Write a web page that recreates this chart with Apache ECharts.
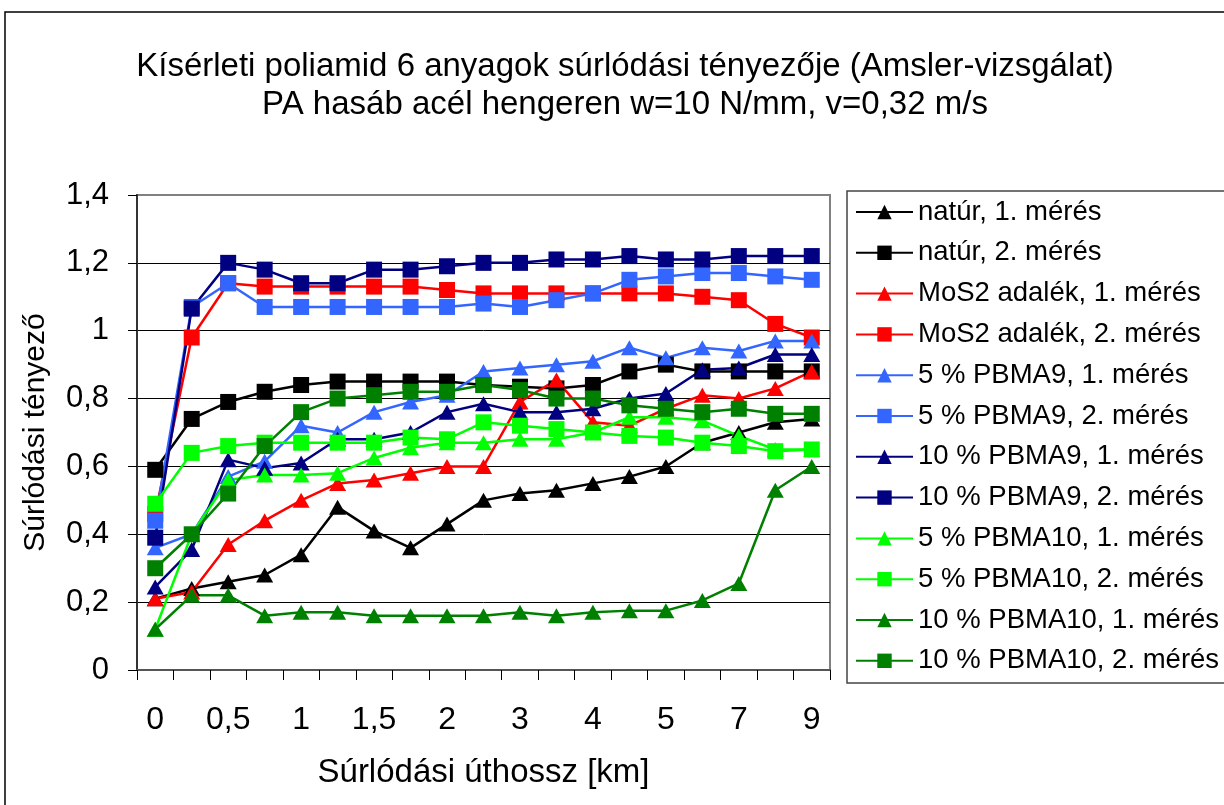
<!DOCTYPE html>
<html>
<head>
<meta charset="utf-8">
<script src="https://cdn.jsdelivr.net/npm/echarts@6/dist/echarts.min.js"></script>
<style>html,body{margin:0;padding:0;background:#fff}#c{width:1224px;height:805px}</style>
</head>
<body>
<div id="c"></div>
<script>
const categories = ['0','0,25','0,5','0,75','1','1,25','1,5','1,75','2','2,5','3','3,5','4','4,5','5','6','7','8','9'];
const yTicks = [0, 0.2, 0.4, 0.6, 0.8, 1, 1.2, 1.4];

const natur1 = [0.21,0.24,0.26,0.28,0.34,0.48,0.41,0.36,0.43,0.50,0.52,0.53,0.55,0.57,0.60,0.67,0.70,0.73,0.74];
const natur2 = [0.59,0.74,0.79,0.82,0.84,0.85,0.85,0.85,0.85,0.84,0.835,0.83,0.84,0.88,0.90,0.88,0.88,0.88,0.88];
const mos1 = [0.21,0.23,0.37,0.44,0.50,0.55,0.56,0.58,0.60,0.60,0.79,0.855,0.73,0.72,0.77,0.81,0.80,0.83,0.88];
const mos2 = [0.46,0.98,1.14,1.13,1.13,1.13,1.13,1.13,1.12,1.11,1.11,1.11,1.11,1.11,1.11,1.10,1.09,1.02,0.98];
const pbma9_5_1 = [0.36,0.40,0.57,0.615,0.72,0.70,0.76,0.79,0.81,0.88,0.89,0.90,0.91,0.95,0.92,0.95,0.94,0.97,0.97];
const pbma9_5_2 = [0.44,1.07,1.14,1.07,1.07,1.07,1.07,1.07,1.07,1.08,1.07,1.09,1.11,1.15,1.16,1.17,1.17,1.16,1.15];
const pbma9_10_1 = [0.245,0.355,0.62,0.595,0.61,0.68,0.68,0.70,0.76,0.785,0.76,0.76,0.77,0.80,0.815,0.885,0.89,0.93,0.93];
const pbma9_10_2 = [0.39,1.065,1.20,1.18,1.14,1.14,1.18,1.18,1.19,1.20,1.20,1.21,1.21,1.22,1.21,1.21,1.22,1.22,1.22];
const pbma10_5_1 = [0.12,0.40,0.56,0.575,0.575,0.58,0.625,0.655,0.67,0.67,0.68,0.68,0.70,0.745,0.745,0.735,0.69,0.65,0.65];
const pbma10_5_2 = [0.49,0.64,0.66,0.67,0.67,0.67,0.67,0.685,0.68,0.73,0.72,0.71,0.70,0.69,0.685,0.67,0.66,0.645,0.65];
const pbma10_10_1 = [0.12,0.22,0.22,0.16,0.17,0.17,0.16,0.16,0.16,0.16,0.17,0.16,0.17,0.175,0.175,0.205,0.255,0.53,0.60];
const pbma10_10_2 = [0.30,0.40,0.52,0.66,0.76,0.80,0.81,0.82,0.82,0.84,0.825,0.80,0.80,0.78,0.77,0.76,0.77,0.755,0.755];

const seriesNames = ['natúr, 1. mérés','natúr, 2. mérés','MoS2 adalék, 1. mérés','MoS2 adalék, 2. mérés',
  '5 % PBMA9, 1. mérés','5 % PBMA9, 2. mérés','10 % PBMA9, 1. mérés','10 % PBMA9, 2. mérés',
  '5 % PBMA10, 1. mérés','5 % PBMA10, 2. mérés','10 % PBMA10, 1. mérés','10 % PBMA10, 2. mérés'];
const seriesData = [natur1,natur2,mos1,mos2,pbma9_5_1,pbma9_5_2,pbma9_10_1,pbma9_10_2,pbma10_5_1,pbma10_5_2,pbma10_10_1,pbma10_10_2];
const seriesColors = ['#000000','#000000','#ff0000','#ff0000','#3366ff','#3366ff','#000080','#000080','#00ff00','#00ff00','#008000','#008000'];
const seriesSymbols = ['triangle','rect','triangle','rect','triangle','rect','triangle','rect','triangle','rect','triangle','rect'];

const FONT = "'Liberation Sans', Arial, sans-serif";
const chart = echarts.init(document.getElementById('c'), null, {renderer:'canvas'});
const fmt = v => String(+(+v).toFixed(1)).replace('.', ',');

chart.setOption({
  animation: false,
  backgroundColor: '#fff',
  textStyle: {fontFamily: FONT},
  title: {
    text: 'Kísérleti poliamid 6 anyagok súrlódási tényezője (Amsler-vizsgálat)\nPA hasáb acél hengeren w=10 N/mm, v=0,32 m/s',
    left: 620, textAlign: 'center', top: 43,
    textStyle: {fontFamily: FONT, fontSize: 33, fontWeight: 'normal', color: '#000', lineHeight: 38}
  },
  graphic: [
    {type:'rect', shape:{x:5, y:12, width:1240, height:820}, style:{fill:'none', stroke:'#000', lineWidth:1.5}, silent:true},
    {type:'rect', shape:{x:847, y:191, width:400, height:492}, style:{fill:'none', stroke:'#444', lineWidth:1.5}, silent:true}
  ],
  legend: {
    orient: 'vertical', left: 850, top: 193,
    itemWidth: 57, itemHeight: 18, itemGap: 12.8,
    textStyle: {fontFamily: FONT, fontSize: 27.5, color: '#000', lineHeight: 28},
    data: seriesNames
  },
  grid: {left: 137, top: 195, width: 693, height: 475, show: true, borderColor: '#808080', borderWidth: 2, containLabel: false},
  xAxis: {
    type: 'category', data: categories, boundaryGap: true,
    name: 'Súrlódási úthossz [km]', nameLocation: 'middle', nameGap: 86,
    nameTextStyle: {fontFamily: FONT, fontSize: 33, color: '#000'},
    axisLine: {lineStyle: {color: '#555', width: 2}},
    axisTick: {show: true, interval: 0, length: 10, lineStyle: {color: '#000', width: 1}},
    axisLabel: {interval: 1, margin: 34, fontFamily: FONT, fontSize: 32, color: '#000'},
    splitLine: {show: false}
  },
  yAxis: {
    type: 'value', min: yTicks[0], max: yTicks[yTicks.length-1], interval: 0.2,
    name: 'Súrlódási tényező', nameLocation: 'middle', nameGap: 86, nameRotate: 90,
    nameTextStyle: {fontFamily: FONT, fontSize: 30, color: '#000'},
    axisLine: {show: true, lineStyle: {color: '#333', width: 2}},
    axisTick: {show: true, length: 9, lineStyle: {color: '#000', width: 1}},
    axisLabel: {margin: 28, fontFamily: FONT, fontSize: 31, color: '#000', formatter: fmt},
    splitLine: {show: true, showMinLine: false, showMaxLine: false, lineStyle: {color: '#000', width: 1}}
  },
  series: seriesNames.map((n, i) => ({
    name: n, type: 'line', data: seriesData[i],
    symbol: seriesSymbols[i], symbolSize: seriesSymbols[i] === 'rect' ? 16 : [17, 15],
    showAllSymbol: true,
    itemStyle: {color: seriesColors[i]},
    lineStyle: {color: seriesColors[i], width: 2.5}
  }))
});
</script>
</body>
</html>
